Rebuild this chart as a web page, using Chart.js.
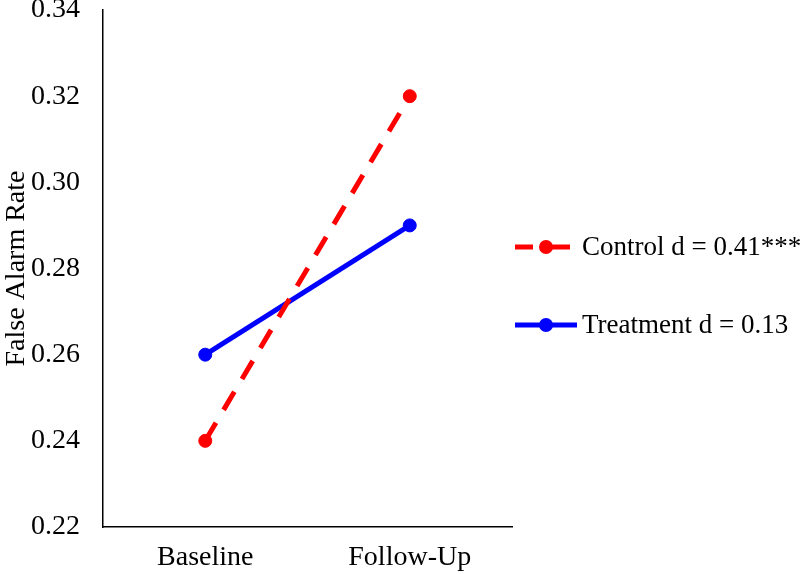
<!DOCTYPE html>
<html><head><meta charset="utf-8">
<script src="https://cdn.jsdelivr.net/npm/chart.js@4"></script>
<style>html,body{margin:0;padding:0;background:#fff}#wrap{width:800px;height:574px}</style>
</head><body><div id="wrap"><canvas id="c" width="800" height="574"></canvas></div>
<script>
const categories = ["Baseline", "Follow-Up"];
const controlValues = [0.24, 0.32];
const treatmentValues = [0.26, 0.29];
const seriesLabels = ["Control d = 0.41***", "Treatment d = 0.13"];
const yMin = 0.22, yMax = 0.34, yStep = 0.02;
const FONT = '"Liberation Serif", "Times New Roman", serif';

const legendPlugin = {
  id: 'sideLegend',
  afterDraw(chart) {
    const ctx = chart.ctx;
    const ys = [247, 325];
    chart.data.datasets.forEach((ds, i) => {
      const y = ys[i];
      ctx.save();
      ctx.strokeStyle = ds.borderColor;
      ctx.lineWidth = ds.borderWidth;
      ctx.lineCap = 'butt';
      ctx.beginPath();
      if (ds.borderDash) {
        ctx.moveTo(515, y); ctx.lineTo(533, y);
        ctx.moveTo(551, y); ctx.lineTo(570, y);
      } else {
        ctx.moveTo(515, y); ctx.lineTo(577, y);
      }
      ctx.stroke();
      ctx.fillStyle = ds.pointBackgroundColor;
      ctx.beginPath();
      ctx.arc(546, y, 7, 0, Math.PI * 2);
      ctx.fill();
      ctx.fillStyle = '#000';
      ctx.font = '27px ' + FONT;
      ctx.textBaseline = 'middle';
      ctx.textAlign = 'left';
      ctx.fillText(ds.label, 582, y + 1);
      ctx.restore();
    });
  }
};

new Chart(document.getElementById('c'), {
  type: 'line',
  data: {
    labels: categories,
    datasets: [
      { label: seriesLabels[0], data: controlValues, borderColor: '#ff0000', backgroundColor: '#ff0000',
        pointBackgroundColor: '#ff0000', pointBorderColor: '#ff0000', borderWidth: 5, borderDash: [21, 15],
        borderCapStyle: 'butt', pointRadius: 6.5, pointBorderWidth: 1, pointHoverRadius: 6.5, fill: false, tension: 0 },
      { label: seriesLabels[1], data: treatmentValues, borderColor: '#0000ff', backgroundColor: '#0000ff',
        pointBackgroundColor: '#0000ff', pointBorderColor: '#0000ff', borderWidth: 5,
        pointRadius: 6.5, pointBorderWidth: 1, pointHoverRadius: 6.5, fill: false, tension: 0 }
    ]
  },
  options: {
    responsive: false, animation: false, devicePixelRatio: 1,
    layout: { padding: { top: 10, right: 288, left: 0, bottom: 0 } },
    plugins: { legend: { display: false }, tooltip: { enabled: false } },
    scales: {
      x: {
        offset: true,
        grid: { display: false, drawTicks: false },
        border: { display: true, color: '#000', width: 1.5 },
        ticks: { color: '#000', padding: 14, font: { family: FONT, size: 28 } },
        afterFit(s) { s.height = 47; s.paddingLeft = 0; s.paddingRight = 0; }
      },
      y: {
        min: yMin, max: yMax,
        grid: { display: false, drawTicks: false },
        border: { display: true, color: '#000', width: 1.5 },
        ticks: { stepSize: yStep, color: '#000', padding: 23,
          font: { family: FONT, size: 28 },
          callback: v => v.toFixed(2) },
        title: { display: true, text: 'False Alarm Rate', color: '#000', padding: 0,
          font: { family: FONT, size: 28 } },
        afterFit(s) { s.width = 103; s.paddingTop = 0; s.paddingBottom = 0; }
      }
    }
  },
  plugins: [legendPlugin]
});
</script></body></html>
